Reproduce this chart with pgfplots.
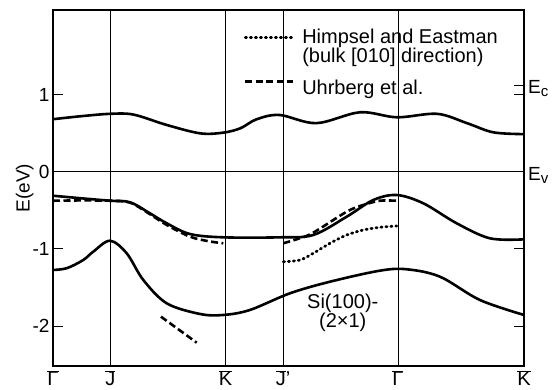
\documentclass[border=0pt]{standalone}
\usepackage{fontspec}
\setmainfont{Liberation Sans}
\usepackage{pgfplots}
\pgfplotsset{compat=1.18}

\pgfplotstableread{
x y
0 0.68
0.25 0.72
0.5 0.75
0.7 0.74
0.99 0.605
1.28 0.497
1.48 0.506
1.63 0.563
1.77 0.679
1.97 0.735
2.29 0.629
2.67 0.77
2.99 0.705
3.34 0.75
3.60 0.629
3.83 0.51
4.096 0.487
}\bandtop

\pgfplotstableread{
x y
0 -0.311
0.25 -0.345
0.496 -0.376
0.670 -0.396
0.843 -0.539
0.989 -0.668
1.191 -0.807
1.481 -0.850
1.974 -0.850
2.263 -0.820
2.554 -0.583
2.785 -0.367
2.989 -0.302
3.22 -0.409
3.51 -0.668
3.80 -0.863
4.096 -0.876
}\bandmid

\pgfplotstableread{
x y
0 -1.273
0.12 -1.25
0.263 -1.144
0.35 -1.036
0.496 -0.894
0.641 -1.057
0.785 -1.402
0.989 -1.705
1.278 -1.843
1.481 -1.856
1.713 -1.791
2.061 -1.575
2.409 -1.425
2.843 -1.282
3.076 -1.264
3.365 -1.360
3.713 -1.662
4.096 -1.856
}\bandlow

\pgfplotstableread{
x y
2.003 -1.166
2.148 -1.144
2.263 -1.057
2.409 -0.927
2.554 -0.820
2.698 -0.755
2.843 -0.720
2.989 -0.703
}\himpsel

\pgfplotstableread{
x y
0 -0.376
0.25 -0.372
0.496 -0.376
0.67 -0.40
0.843 -0.55
0.989 -0.69
1.191 -0.842
1.35 -0.90
1.481 -0.927
}\uhrA

\pgfplotstableread{
x y
2.003 -0.927
2.13 -0.87
2.263 -0.790
2.554 -0.518
2.70 -0.43
2.843 -0.376
2.989 -0.376
}\uhrB

\pgfplotstableread{
x y
0.939 -1.878
1.25 -2.215
}\uhrC

\begin{document}
\begin{tikzpicture}
\begin{axis}[
  scale only axis, width=471pt, height=356pt,
  xmin=0, xmax=4.096, ymin=-2.517, ymax=2.095,
  axis line style={line width=1.6pt},
  xtick={0,0.5,1.5,2.0,3.0,4.096},
  xticklabels={$\overline{\hbox{Γ}}$,$\overline{\hbox{J}}$,$\overline{\hbox{K}}$,$\overline{\hbox{J}}\hbox{’}$,$\overline{\hbox{Γ}}$,$\overline{\hbox{K}}$},
  xticklabel style={font=\fontsize{20}{21}\selectfont, inner sep=0pt, yshift=-4pt},
  xmajorgrids, grid style={black, line width=0.7pt},
  major x tick style={draw=none},
  ytick={-2,-1,0,1}, yticklabels={-2,-1,0,1},
  ytick pos=both, tick align=inside, major tick length=10pt,
  y tick style={black, line width=0.8pt},
  yticklabel style={font=\fontsize{19}{20}\selectfont},
  extra y ticks={1.12}, extra y tick labels={}, extra y tick style={ytick pos=right},
  ylabel={E(eV)},
  ylabel style={at={(axis description cs:-0.06,0.5)}, anchor=center, font=\fontsize{19}{20}\selectfont},
  clip=false,
  legend style={at={(rel axis cs:0.405,0.95)}, anchor=north west, draw=none, fill=none,
    font=\fontsize{20}{21}\selectfont, inner sep=0pt, row sep=0pt, column sep=6pt,
    nodes={inner sep=1.5pt}},
  legend cell align=left,
  legend image code/.code={\draw[#1] (0pt,0pt) -- (48pt,0pt);},
]
\addplot[black, line width=2.8pt, line cap=round, dash pattern=on 1.2pt off 3.8pt, smooth, tension=0.5] table {\himpsel};
\addlegendentry{Himpsel and Eastman}
\addlegendimage{empty legend}
\addlegendentry{(bulk [010] direction)}
\addplot[black, line width=2.6pt, dash pattern=on 7pt off 3.5pt, smooth, tension=0.5] table {\uhrA};
\addlegendentry{\rule{0pt}{27pt}Uhrberg et al.}
\addplot[forget plot, black, line width=2.6pt, dash pattern=on 7pt off 3.5pt, smooth, tension=0.5] table {\uhrB};
\addplot[forget plot, black, line width=2.6pt, dash pattern=on 7pt off 3.5pt] table {\uhrC};
\addplot[forget plot, black, line width=0.7pt] coordinates {(0,0) (4.096,0)};
\addplot[forget plot, black, line width=2.6pt, smooth, tension=0.55] table {\bandtop};
\addplot[forget plot, black, line width=2.6pt, smooth, tension=0.55] table {\bandmid};
\addplot[forget plot, black, line width=2.6pt, smooth, tension=0.55] table {\bandlow};
\node[anchor=base west, inner sep=0pt, xshift=4pt, font=\fontsize{19}{20}\selectfont] at (axis cs:4.096,1.016) {E\raisebox{-3.5pt}{\fontsize{15}{15}\selectfont c}};
\node[anchor=base west, inner sep=0pt, xshift=4pt, font=\fontsize{19}{20}\selectfont] at (axis cs:4.096,-0.108) {E\raisebox{-3.5pt}{\fontsize{15}{15}\selectfont v}};
\node[align=center, font=\fontsize{20}{18}\selectfont] at (axis cs:2.52,-1.83) {Si(100)-\\(2×1)};
\end{axis}
\pgfresetboundingbox
\path ([shift={(-53pt,-24pt)}]current axis.south west) rectangle ([shift={(28pt,10pt)}]current axis.north east);
\end{tikzpicture}
\end{document}
